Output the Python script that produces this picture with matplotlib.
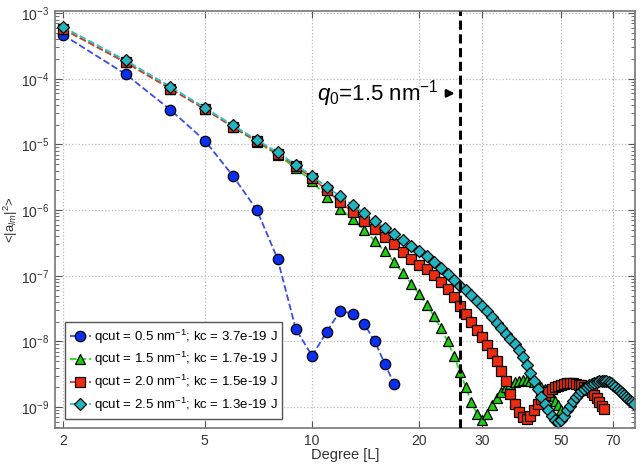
import numpy as np
from matplotlib import pyplot as plt
from matplotlib.ticker import (FixedLocator, FixedFormatter, LogLocator, NullFormatter,
                               LogFormatterSciNotation)

plt.rcParams["font.family"] = "Liberation Sans"
plt.rcParams["mathtext.fontset"] = "custom"
plt.rcParams["mathtext.rm"] = "Liberation Sans"
plt.rcParams["mathtext.it"] = "Liberation Sans:italic"

# log10 of <|a_lm|^2>
L_blue = list(range(2, 18))
logv_blue = [-3.33, -3.93, -4.47, -4.94, -5.48, -6.0, -6.74, -7.81, -8.22, -7.85,
             -7.53, -7.58, -7.73, -8.0, -8.34, -8.65]

L_green = list(range(2, 51))
logv_green = [-3.24, -3.75, -4.15, -4.46, -4.74, -4.96, -5.16, -5.36, -5.56, -5.8,
              -5.98, -6.14, -6.3, -6.47, -6.63, -6.79, -6.96, -7.12, -7.28, -7.44,
              -7.62, -7.8, -8.0, -8.22, -8.46, -8.7, -8.93, -9.1, -9.19, -9.1,
              -8.97, -8.86, -8.77, -8.7, -8.65, -8.62, -8.6, -8.59, -8.59, -8.6,
              -8.62, -8.65, -8.69, -8.73, -8.78, -8.83, -8.9, -8.97, -9.05]

L_red = list(range(2, 67))
logv_red = [-3.24, -3.75, -4.15, -4.46, -4.73, -4.95, -5.14, -5.33, -5.51, -5.7,
            -5.88, -6.03, -6.17, -6.29, -6.41, -6.52, -6.64, -6.74, -6.83, -6.9,
            -6.99, -7.09, -7.2, -7.32, -7.46, -7.58, -7.7, -7.82, -7.93, -8.05,
            -8.17, -8.3, -8.45, -8.61, -8.8, -8.96, -9.07, -9.15, -9.18, -9.14,
            -9.05, -8.95, -8.87, -8.81, -8.77, -8.73, -8.7, -8.68, -8.66, -8.65,
            -8.64, -8.64, -8.64, -8.65, -8.66, -8.67, -8.69, -8.71, -8.74, -8.77,
            -8.81, -8.86, -8.92, -8.98, -9.03]

L_cyan = list(range(2, 81))
logv_cyan = [-3.21, -3.72, -4.12, -4.44, -4.71, -4.93, -5.12, -5.31, -5.48, -5.65,
             -5.79, -5.92, -6.05, -6.16, -6.27, -6.37, -6.46, -6.54, -6.62, -6.7,
             -6.79, -6.88, -6.97, -7.06, -7.15, -7.22, -7.3, -7.38, -7.46, -7.54,
             -7.63, -7.72, -7.8, -7.88, -7.96, -8.04, -8.13, -8.24, -8.36, -8.48,
             -8.6, -8.72, -8.84, -8.95, -9.05, -9.13, -9.19, -9.22, -9.2, -9.13,
             -9.05, -8.98, -8.91, -8.85, -8.8, -8.76, -8.72, -8.69, -8.67, -8.65,
             -8.63, -8.62, -8.61, -8.6, -8.6, -8.61, -8.62, -8.64, -8.66, -8.69,
             -8.72, -8.75, -8.78, -8.81, -8.84, -8.87, -8.9, -8.93, -8.96]

labels = [
    "qcut = 0.5 nm$^{-1}$; kc = 3.7e-19 J",
    "qcut = 1.5 nm$^{-1}$; kc = 1.7e-19 J",
    "qcut = 2.0 nm$^{-1}$; kc = 1.5e-19 J",
    "qcut = 2.5 nm$^{-1}$; kc = 1.3e-19 J",
]
q0_L = 26
xticks = [2, 5, 10, 20, 30, 50, 70]
yticks = [1e-9, 1e-8, 1e-7, 1e-6, 1e-5, 1e-4, 1e-3]

series = [
    (L_blue, logv_blue, "o", "#0a2ff0", "#3a4ee8"),
    (L_green, logv_green, "^", "#1ecc10", "#22dd22"),
    (L_red, logv_red, "s", "#ee2a10", "#ee3030"),
    (L_cyan, logv_cyan, "D", "#22b5c0", "#20c8c8"),
]

fig = plt.figure(figsize=(6.4, 4.66), dpi=100)
ax = fig.add_axes([0.086, 0.0815, 0.906, 0.895])

for (L, lv, mk, fc, lc), lab in zip(series, labels):
    ms = 7.5 if mk != "D" else 6.5
    ax.plot(L, 10 ** np.array(lv), linestyle="--", color=lc, lw=1.3,
            marker=mk, markersize=ms, markerfacecolor=fc,
            markeredgecolor="black", markeredgewidth=0.9, label=lab)

ax.axvline(q0_L, color="black", linestyle="--", lw=2.2, dashes=(3, 1.5), zorder=5)
ax.text(22.6, 6e-5, "$q_0$=1.5 nm$^{-1}$", fontsize=16, ha="right", va="center")
ax.annotate("", xy=(25.6, 6e-5), xytext=(23.4, 6e-5),
            arrowprops=dict(arrowstyle="-|>", color="black", lw=1.8, mutation_scale=11))

ax.set_xscale("log")
ax.set_yscale("log")
ax.set_xlim(1.9, 80.5)
ax.set_ylim(4.8e-10, 1.08e-3)

ax.xaxis.set_major_locator(FixedLocator(xticks))
ax.xaxis.set_major_formatter(FixedFormatter([str(t) for t in xticks]))
ax.xaxis.set_minor_formatter(NullFormatter())
ax.xaxis.set_minor_locator(FixedLocator([]))
ax.yaxis.set_major_locator(FixedLocator(yticks))
ax.yaxis.set_major_formatter(LogFormatterSciNotation())
ax.yaxis.set_minor_locator(LogLocator(base=10, subs=np.arange(2, 10), numticks=12))
ax.yaxis.set_minor_formatter(NullFormatter())

ax.tick_params(which="both", direction="in", top=True, right=True, colors="#555555",
               labelcolor="#333333", labelsize=10)
ax.tick_params(which="major", length=5, pad=4)
ax.tick_params(which="minor", length=3)
ax.grid(True, which="major", linestyle=":", color="#bbbbbb", lw=0.9)
for s in ax.spines.values():
    s.set_color("#777777")
    s.set_linewidth(1.2)

ax.set_xlabel("Degree [L]", fontsize=10.5, color="#333333", labelpad=0)
ax.set_ylabel("<|a$_{lm}$|$^2$>", fontsize=9.5, color="#333333", labelpad=1)

leg = ax.legend(loc="lower left", fontsize=9.5, handlelength=1.6, handletextpad=0.2,
                borderpad=0.4, labelspacing=0.35, fancybox=False, framealpha=1,
                edgecolor="#555555", bbox_to_anchor=(0.005, 0.005))
leg.get_frame().set_linewidth(1.0)

fig.savefig("out.png", dpi=100)
